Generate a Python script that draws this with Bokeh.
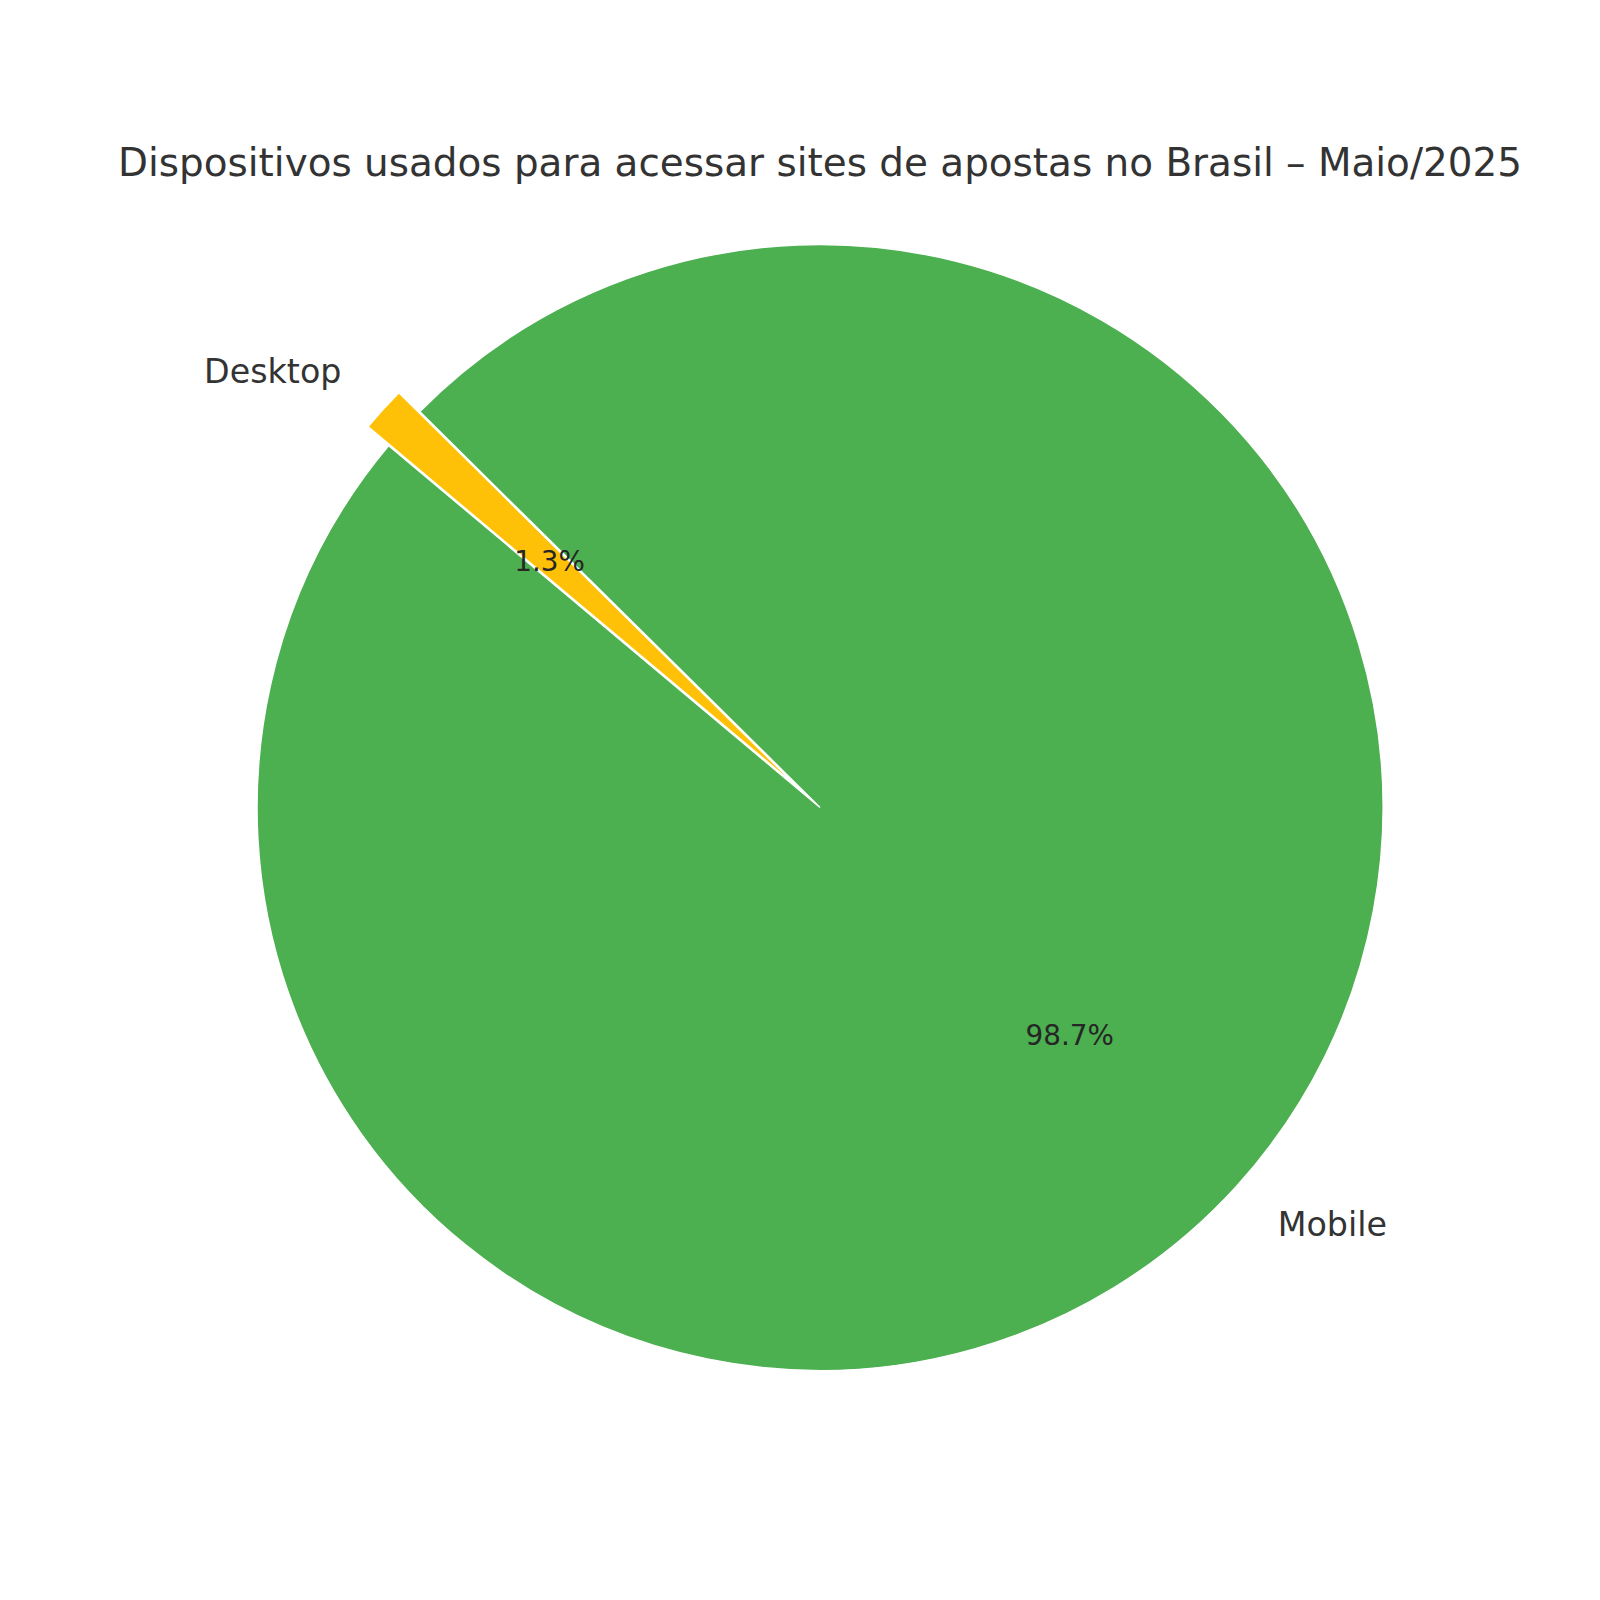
import numpy as np
from bokeh.plotting import figure
from bokeh.models import ColumnDataSource, Range1d
from bokeh.embed import file_html
from bokeh.resources import INLINE
from bokeh.core.properties import value

# ---- data ----
chart_title = "Dispositivos usados para acessar sites de apostas no Brasil – Maio/2025"
labels = ["Mobile", "Desktop"]
shares = [98.7, 1.3]
colors = ["#4CAF50", "#FFC107"]
explode = [0.0, 0.05]
start_angle_deg = 140.0

# ---- geometry (pie of radius 1) ----
W = H = 1584
R_PX = 563.0            # pixels per data unit (pie radius)
CX, CY = 819.5, 807.0   # pie centre in figure pixels (from top-left)
TITLE_BASELINE_PX = 162.0

vals = np.array(shares, dtype=float)
frac = vals / vals.sum()
theta1 = np.deg2rad(start_angle_deg + 360.0 * np.concatenate([[0.0], np.cumsum(frac)[:-1]]))
theta2 = theta1 + np.deg2rad(360.0 * frac)
mid = (theta1 + theta2) / 2.0
ex = np.array(explode)
cx = ex * np.cos(mid)
cy = ex * np.sin(mid)

lab_x = cx + 1.1 * np.cos(mid)
lab_y = cy + 1.1 * np.sin(mid)
lab_align = ["left" if v > 0 else "right" for v in lab_x]
pct_x = cx + 0.6 * np.cos(mid)
pct_y = cy + 0.6 * np.sin(mid)
pct_text = [f"{100*f:.1f}%" for f in frac]

wedges = ColumnDataSource(dict(x=cx, y=cy, start=theta1, end=theta2, color=colors, label=labels))
labsrc = ColumnDataSource(dict(x=lab_x, y=lab_y, text=labels, align=lab_align))
pctsrc = ColumnDataSource(dict(x=pct_x, y=pct_y, text=pct_text))

p = figure(width=W, height=H, output_backend="svg", toolbar_location=None,
           x_range=Range1d(-CX / R_PX, (W - CX) / R_PX),
           y_range=Range1d(-(H - CY) / R_PX, CY / R_PX),
           min_border=0)
p.axis.visible = False
p.grid.visible = False
p.outline_line_color = None
p.background_fill_color = "white"
p.border_fill_color = "white"

p.wedge(x="x", y="y", radius=1.0, start_angle="start", end_angle="end",
        fill_color="color", line_color="white", line_width=1.5, source=wedges)

p.text(x="x", y="y", text="text", text_align="align", text_baseline="middle",
       text_font=value("DejaVu Sans"), text_font_size="33.3px", text_color="#333333",
       source=labsrc)
p.text(x="x", y="y", text="text", text_align="center", text_baseline="middle",
       text_font=value("DejaVu Sans"), text_font_size="27.8px", text_color="#262626",
       source=pctsrc)

title_y = (CY - TITLE_BASELINE_PX) / R_PX
p.text(x=[0.0], y=[title_y], text=[chart_title], text_align="center", text_baseline="alphabetic",
       text_font=value("DejaVu Sans"), text_font_size="38.9px", text_color="#333333")

open("out.html", "w").write(file_html(p, INLINE))
